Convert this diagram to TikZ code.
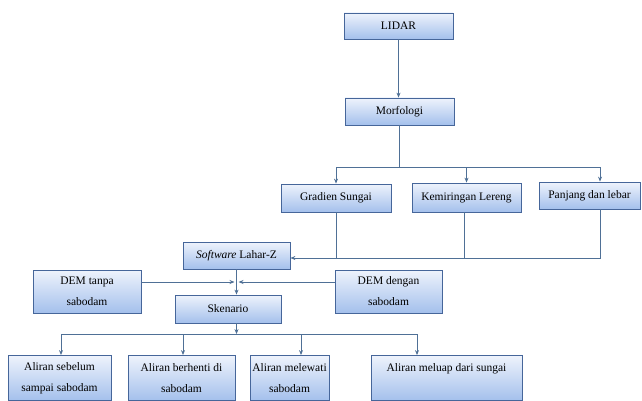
\documentclass[tikz,border=0pt]{standalone}
\usepackage{fontspec}
\setmainfont{Liberation Serif}
\usetikzlibrary{arrows.meta}
\usepackage{xcolor}

\definecolor{garis}{HTML}{4F7096}
\definecolor{tepi}{HTML}{46669A}
\definecolor{atas}{HTML}{EEF3FC}
\definecolor{bawah}{HTML}{A4C0EC}

\tikzset{
  kotak/.style={draw=tepi, line width=0.8pt, top color=atas, bottom color=bawah,
    inner sep=0pt, align=center, font=\rmfamily\fontsize{11.5}{21}\selectfont},
  panah/.style={draw=garis, line width=0.8pt, -{Stealth[length=5pt,width=4pt]}},
  garisan/.style={draw=garis, line width=0.8pt}
}

\begin{document}
\begin{tikzpicture}[x=1pt, y={(0pt,-1pt)}]
\useasboundingbox (0,0) rectangle (642,401);
% kotak-kotak
\node[kotak, minimum width=109pt, minimum height=26pt] (lidar) at (398.5,26) {LIDAR};
\node[kotak, minimum width=109pt, minimum height=27pt] (morf) at (399.5,111.5) {Morfologi};
\node[kotak, minimum width=110pt, minimum height=28pt] (grad) at (336,198) {Gradien Sungai};
\node[kotak, minimum width=109pt, minimum height=29pt] (kemi) at (466.5,197.5) {Kemiringan Lereng};
\node[kotak, minimum width=101pt, minimum height=27pt] (panj) at (589.5,195.5) {Panjang dan lebar};
\node[kotak, minimum width=107pt, minimum height=27pt] (soft) at (236.5,255.5) {\textit{Software} Lahar-Z};
\node[kotak, minimum width=108pt, minimum height=43pt] (demt) at (87,291.5) {DEM tanpa\\ sabodam};
\node[kotak, minimum width=107pt, minimum height=43pt] (demd) at (388.5,291.5) {DEM dengan\\ sabodam};
\node[kotak, minimum width=106pt, minimum height=28pt] (sken) at (228,309) {Skenario};
\node[kotak, minimum width=103pt, minimum height=45pt] (a1) at (59.5,378) {Aliran sebelum\\ sampai sabodam};
\node[kotak, minimum width=107pt, minimum height=45pt] (a2) at (181.5,378) {Aliran berhenti di\\ sabodam};
\node[kotak, minimum width=79pt, minimum height=45pt] (a3) at (289.5,378) {Aliran melewati\\ sabodam};
\node[kotak, minimum width=151pt, minimum height=45pt] (a4) at (446.5,378) {Aliran meluap dari sungai\\ \mbox{}};

\coordinate (bus1) at (0,167);
\coordinate (bus2) at (0,258);
\coordinate (temu) at (236.5,282);

% garis penghubung
\draw[panah] (lidar.south) -- (lidar.south |- morf.north);
\draw[garisan] (morf.south) -- (morf.south |- bus1);
\draw[panah] (morf.south |- bus1) -| (grad.north);
\draw[panah] (morf.south |- bus1) -| ([xshift=10.5pt]panj.north);
\draw[panah] (kemi.north |- bus1) -- (kemi.north);

\draw[garisan] (grad.south) -- (grad.south |- bus2);
\draw[garisan] ([xshift=-2.5pt]kemi.south) -- ([xshift=-2.5pt]kemi.south |- bus2);
\draw[panah] ([xshift=10.5pt]panj.south) |- (soft.east |- bus2);

\draw[panah] (soft.south) -- (soft.south |- sken.north);
\draw[panah] (demt.east |- temu) -- ([xshift=-2pt]temu);
\draw[panah] (demd.west |- temu) -- ([xshift=2pt]temu);

\draw[panah] (soft.south |- sken.south) -- ([yshift=21pt]soft.south |- a1.north);
\draw[garisan] ([xshift=1.5pt,yshift=21pt]a1.north) -- ([xshift=-29.5pt,yshift=21pt]a4.north);
\foreach \n/\dx in {a1/1.5,a2/1.5,a3/11.5,a4/-29.5}
  \draw[panah] ([xshift=\dx pt,yshift=21pt]\n.north) -- ([xshift=\dx pt]\n.north);
\end{tikzpicture}
\end{document}
